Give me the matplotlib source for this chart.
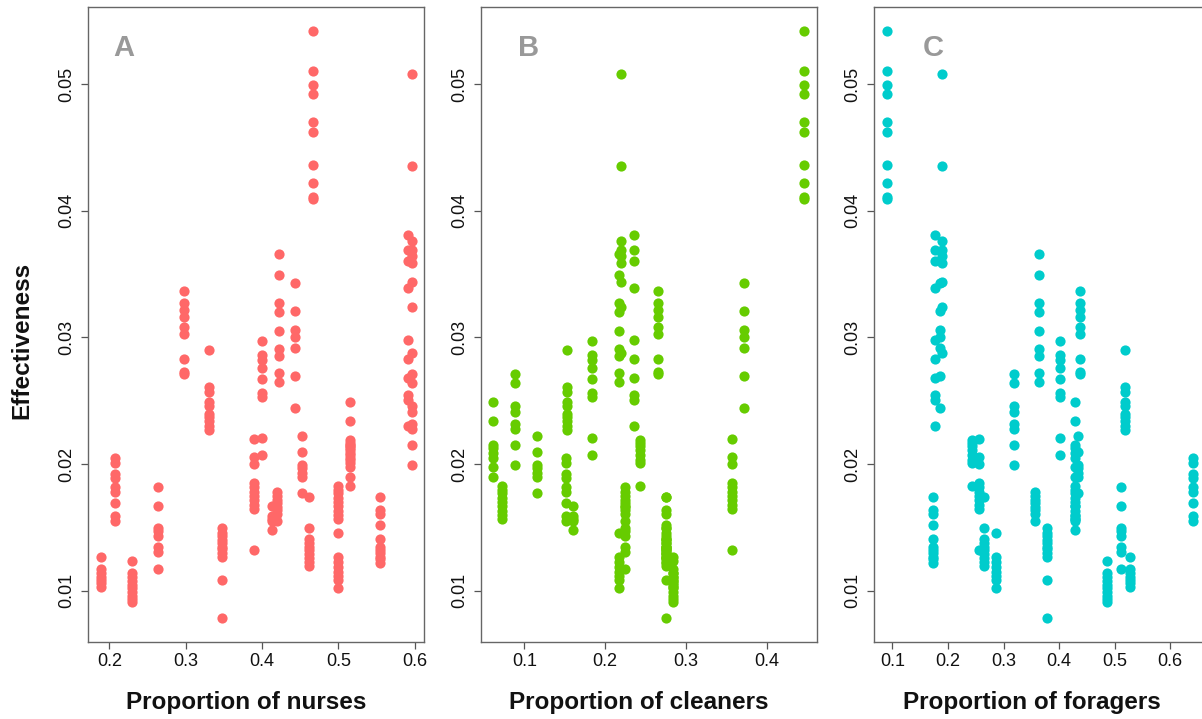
import matplotlib
matplotlib.use("Agg")
import matplotlib.pyplot as plt
import numpy as np

plt.rcParams['font.family'] = ['Liberation Sans', 'DejaVu Sans']

# ---- data: each group = one colony composition with several effectiveness values ----
nurses   = [0.466, 0.5965, 0.5908, 0.5965, 0.2977, 0.330, 0.3993, 0.4217, 0.4129, 0.4197,
            0.4436, 0.4528, 0.4615, 0.4988, 0.4988, 0.5154, 0.5154, 0.5544, 0.189, 0.2075,
            0.2294, 0.2636, 0.347, 0.3889]
cleaners = [0.446, 0.2193, 0.2357, 0.0881, 0.2659, 0.1532, 0.1834, 0.2170, 0.1603, 0.2246,
            0.3723, 0.1157, 0.2757, 0.0728, 0.2176, 0.0616, 0.2432, 0.2757, 0.2844, 0.1516,
            0.2844, 0.2246, 0.2757, 0.3570]
foragers = [0.0898, 0.1884, 0.1766, 0.3192, 0.4380, 0.5183, 0.4020, 0.3644, 0.4280, 0.3572,
            0.1860, 0.4340, 0.2640, 0.4280, 0.2865, 0.4280, 0.2426, 0.1736, 0.5270, 0.6419,
            0.4863, 0.5115, 0.3786, 0.2556]
effectiveness = [
    [0.0542, 0.0510, 0.0499, 0.0492, 0.0470, 0.0462, 0.0436, 0.0422, 0.0411, 0.0409],
    [0.0508, 0.0435, 0.0376, 0.0369, 0.0364, 0.0359, 0.0344, 0.0324, 0.0288],
    [0.0381, 0.0369, 0.0360, 0.0339, 0.0298, 0.0283, 0.0268, 0.0255, 0.0251, 0.0230],
    [0.0271, 0.0264, 0.0246, 0.0241, 0.0232, 0.0228, 0.0215, 0.0199],
    [0.0337, 0.0327, 0.0322, 0.0316, 0.0308, 0.0303, 0.0283, 0.0273, 0.0271],
    [0.0290, 0.0261, 0.0257, 0.0249, 0.0246, 0.0240, 0.0237, 0.0234, 0.0230, 0.0227],
    [0.0297, 0.0286, 0.0282, 0.0276, 0.0267, 0.0256, 0.0253, 0.0221, 0.0207],
    [0.0366, 0.0349, 0.0327, 0.0320, 0.0305, 0.0291, 0.0285, 0.0272, 0.0265],
    [0.0167, 0.0159, 0.0157, 0.0155, 0.0148],
    [0.0178, 0.0175, 0.0172, 0.0169, 0.0166, 0.0164, 0.0161, 0.0155],
    [0.0343, 0.0321, 0.0306, 0.0300, 0.0292, 0.0270, 0.0244],
    [0.0222, 0.0210, 0.0199, 0.0197, 0.0193, 0.0190, 0.0177],
    [0.0174, 0.0150, 0.0141, 0.0138, 0.0135, 0.0132, 0.0129, 0.0126, 0.0123, 0.0120],
    [0.0183, 0.0180, 0.0177, 0.0173, 0.0170, 0.0167, 0.0163, 0.0160, 0.0157],
    [0.0146, 0.0127, 0.0123, 0.0119, 0.0115, 0.0112, 0.0109, 0.0102],
    [0.0249, 0.0234, 0.0215, 0.0213, 0.0209, 0.0205, 0.0198, 0.0190],
    [0.0219, 0.0217, 0.0214, 0.0211, 0.0207, 0.0203, 0.0201, 0.0183],
    [0.0174, 0.0164, 0.0161, 0.0152, 0.0141, 0.0135, 0.0132, 0.0130, 0.0127, 0.0125, 0.0122],
    [0.0127, 0.0117, 0.0114, 0.0111, 0.0109, 0.0106, 0.0103],
    [0.0205, 0.0201, 0.0192, 0.0189, 0.0182, 0.0178, 0.0169, 0.0159, 0.0155],
    [0.0124, 0.0114, 0.0111, 0.0108, 0.0105, 0.0102, 0.0099, 0.0096, 0.0094, 0.0091],
    [0.0182, 0.0167, 0.0150, 0.0147, 0.0143, 0.0135, 0.0131, 0.0117],
    [0.0150, 0.0146, 0.0143, 0.0140, 0.0138, 0.0135, 0.0133, 0.0130, 0.0127, 0.0109, 0.0079],
    [0.0220, 0.0206, 0.0200, 0.0185, 0.0182, 0.0178, 0.0175, 0.0172, 0.0168, 0.0165, 0.0132],
]

panel_letters = ["A", "B", "C"]
x_labels = ["Proportion of nurses", "Proportion of cleaners", "Proportion of foragers"]
colors = ["#FF6868", "#66CC00", "#00CCCC"]
x_ticks = [[0.2, 0.3, 0.4, 0.5, 0.6], [0.1, 0.2, 0.3, 0.4], [0.1, 0.2, 0.3, 0.4, 0.5, 0.6]]
y_ticks = [0.01, 0.02, 0.03, 0.04, 0.05]
x_limits = [(0.172, 0.612), (0.0464, 0.4623), (0.0667, 0.6720)]
y_limits = (0.00597, 0.05608)

y_all = np.concatenate([np.array(v) for v in effectiveness])
def expand(xs):
    return np.concatenate([np.full(len(v), x) for x, v in zip(xs, effectiveness)])
x_sets = [expand(nurses), expand(cleaners), expand(foragers)]

W, H = 1202, 719
fig = plt.figure(figsize=(W / 100, H / 100), dpi=100)
lefts = [88, 481, 874]
width_px = 336
top_px, bot_px = 7, 642
letter_pos = [0.107, 0.143, 0.176]

for i in range(3):
    ax = fig.add_axes([lefts[i] / W, (H - bot_px) / H, width_px / W, (bot_px - top_px) / H])
    ax.scatter(x_sets[i], y_all, s=54, color=colors[i], linewidths=0, zorder=3)
    ax.set_xlim(*x_limits[i])
    ax.set_ylim(*y_limits)
    ax.set_xticks(x_ticks[i])
    ax.set_xticklabels([f"{t:.1f}" for t in x_ticks[i]])
    ax.set_yticks(y_ticks)
    ax.set_yticklabels([f"{t:.2f}" for t in y_ticks], rotation=90, va="center")
    ax.tick_params(axis="both", labelsize=13, length=5, width=0.9, color="#555555",
                   labelcolor="#111111")
    ax.tick_params(axis="y", pad=4)
    ax.tick_params(axis="x", pad=3)
    for sp in ax.spines.values():
        sp.set_color("#666666")
        sp.set_linewidth(1.0)
    ax.text(letter_pos[i], 0.935, panel_letters[i], transform=ax.transAxes,
            fontsize=21, fontweight="bold", color="#999999", ha="center", va="center")
    fig.text((lefts[i] + 158) / W, 1 - 703 / H, x_labels[i], fontsize=17.5,
             fontweight="bold", ha="center", va="center", color="#111111")

fig.text(22 / W, 1 - 340 / H, "Effectiveness", rotation=90, fontsize=17.5,
         fontweight="bold", ha="center", va="center", color="#111111")

fig.savefig("out.png", dpi=100)
